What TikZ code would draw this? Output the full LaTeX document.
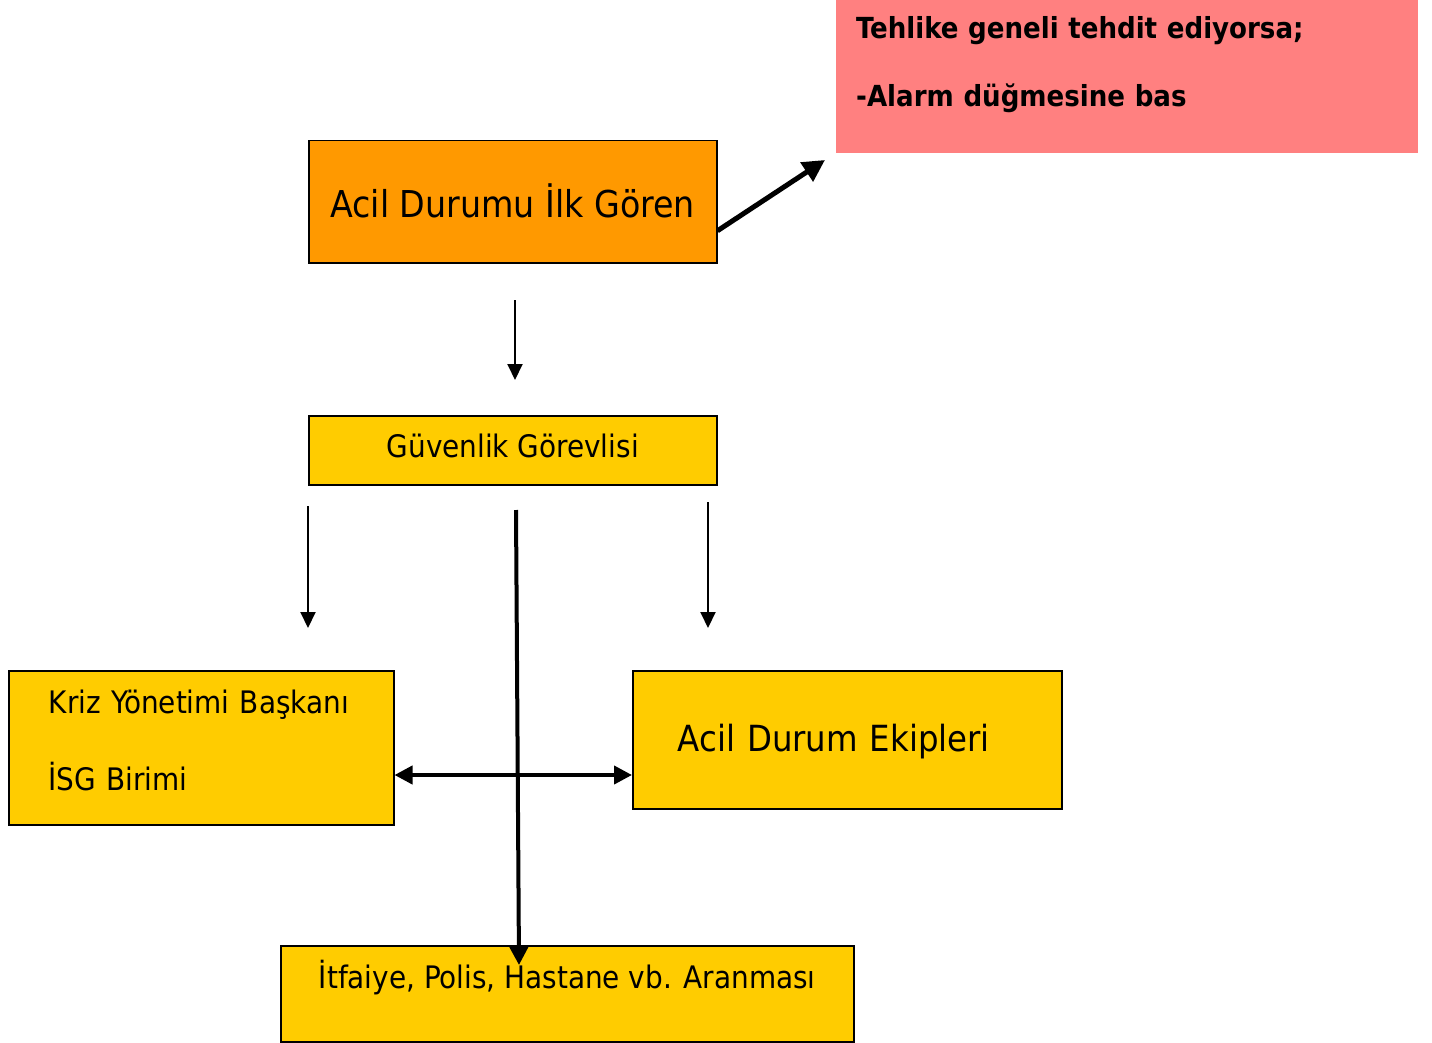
\documentclass[tikz,border=0pt]{standalone}
\usepackage{fontspec}
\setmainfont{DejaVu Sans Condensed}
\usetikzlibrary{arrows.meta}

\definecolor{alarmpink}{HTML}{FF8080}
\definecolor{seerorange}{HTML}{FF9900}
\definecolor{unityellow}{HTML}{FFCC00}

\begin{document}
\begin{tikzpicture}[x=1pt,y=-1pt,
    unit/.style={draw,line width=1.5pt,anchor=north west,inner ysep=0pt},
    thinarrow/.style={line width=2pt,-{Triangle[length=16pt,width=15pt]}},
    thickarrow/.style={line width=4pt,-{Triangle[length=18pt,width=18pt]}}]
    \useasboundingbox (0,0) rectangle (1432,1043);

    \node (alarm) [anchor=north west,fill=alarmpink,inner xsep=20pt,inner ysep=0pt,
      text width=542pt,align=left,text height=38pt,text depth=115pt,
      font=\bfseries\fontsize{29}{68}\selectfont] at (836,0)
      {Tehlike geneli tehdit ediyorsa;\\-Alarm düğmesine bas};
    \node (seer) [unit,fill=seerorange,minimum width=408pt,text height=77pt,text depth=45pt,
      font=\fontsize{37}{44}\selectfont] at (308,140) {Acil Durumu İlk Gören};
    \node (guard) [unit,fill=unityellow,minimum width=408pt,text height=42pt,text depth=27pt,
      font=\fontsize{31}{36}\selectfont] at (308,415) {Güvenlik Görevlisi};
    \node (crisis) [unit,fill=unityellow,inner xsep=40pt,text width=305pt,align=left,
      text height=43pt,text depth=111pt,font=\fontsize{31}{77}\selectfont] at (8,670)
      {\mbox{Kriz Yönetimi Başkanı}\\İSG Birimi};
    \node (teams) [unit,fill=unityellow,inner xsep=45pt,text width=339pt,align=left,
      text height=81pt,text depth=57pt,font=\fontsize{36}{42}\selectfont] at (632,670)
      {Acil Durum Ekipleri};
    \node (call) [unit,fill=unityellow,minimum width=573pt,text height=43pt,text depth=53pt,
      font=\fontsize{31}{36}\selectfont] at (280,945)
      {İtfaiye, Polis, Hastane vb. Aranması};

    \coordinate (alarmtip) at (825,160);
    \coordinate (g1) at (515,300);
    \coordinate (g2) at (515,380);
    \coordinate (c1) at (308,506);
    \coordinate (c2) at (308,628);
    \coordinate (t1) at (708,502);
    \coordinate (t2) at (708,628);
    \coordinate (k1) at (516,510);
    \coordinate (k2) at (519,965);
    \coordinate (midrow) at (0,775);

    \draw [line width=5pt,-{Triangle[length=22pt,width=22pt]}] ([yshift=-29pt]seer.east) -- (alarmtip);
    \draw [thinarrow] (g1) -- (g2);
    \draw [thinarrow] (c1) -- (c2);
    \draw [thinarrow] (t1) -- (t2);
    \draw [thickarrow] (k1) -- (k2);
    \draw [line width=4pt,{Triangle[length=18pt,width=18pt]}-{Triangle[length=18pt,width=18pt]}]
      (crisis.east |- midrow) -- (teams.west |- midrow);
  \end{tikzpicture}
\end{document}
